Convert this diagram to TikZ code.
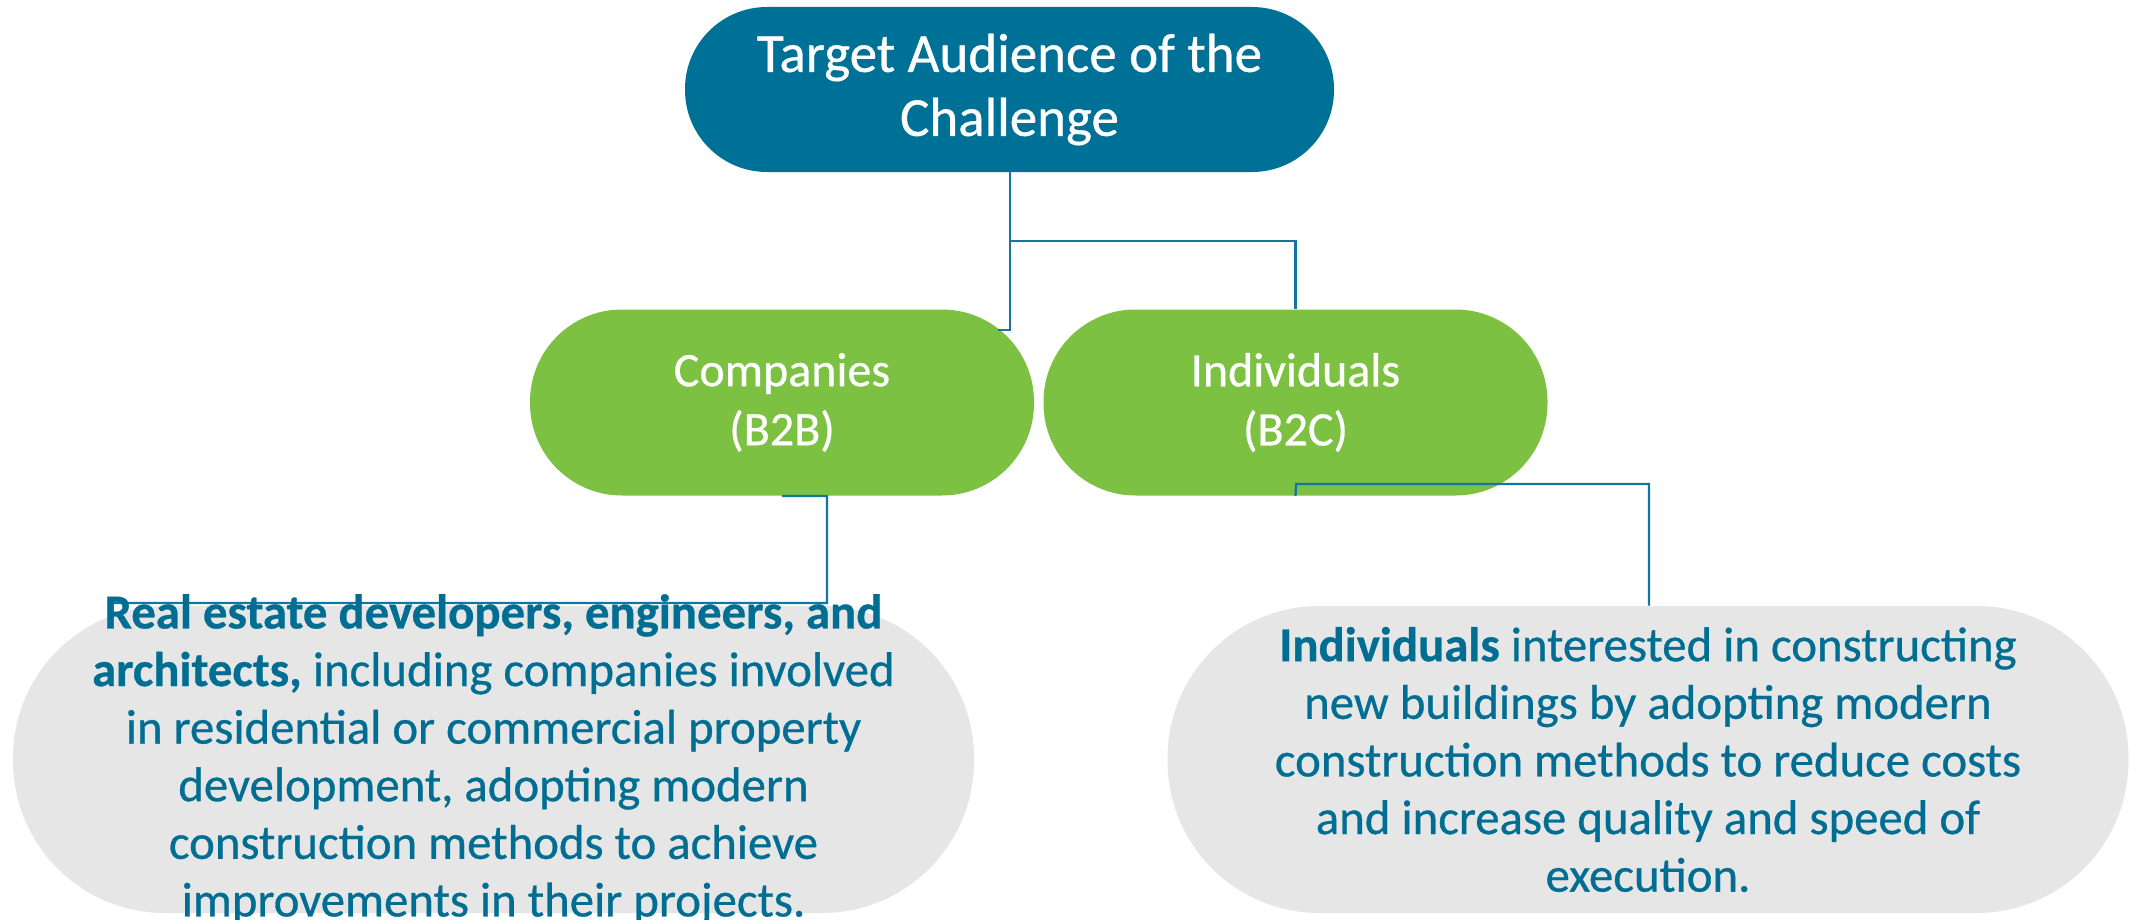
\documentclass[tikz,border=0pt]{standalone}
\usepackage{fontspec}
\setmainfont{Carlito}
\newfontfamily\sturdy{Carlito}[FakeBold=0.6]
\definecolor{headblue}{RGB}{0,113,150}
\definecolor{leafgreen}{RGB}{125,193,67}
\definecolor{softgray}{RGB}{230,230,230}
\definecolor{inkblue}{RGB}{0,110,146}
\definecolor{wireblue}{RGB}{18,118,160}
\tikzset{
  pill/.style={rectangle, inner sep=0pt, draw=none},
  headbox/.style={pill, fill=headblue, minimum width=324.5pt, minimum height=82.5pt,
    rounded corners=41pt, text=white, align=center,
    font=\sturdy\fontsize{27.5}{32}\selectfont},
  groupbox/.style={pill, fill=leafgreen, minimum width=252pt, minimum height=93pt,
    rounded corners=46pt, text=white, align=center,
    font=\sturdy\fontsize{24}{29.5}\selectfont},
  detailbox/.style={pill, fill=softgray, minimum width=480.5pt, minimum height=153.5pt,
    rounded corners=76pt},
  detailtext/.style={inner sep=0pt, text=inkblue, align=center,
    font=\sturdy\fontsize{24.4}{28.8}\selectfont},
  wire/.style={draw=wireblue, line width=1.1pt}
}
\begin{document}
\begin{tikzpicture}[x=0.5pt, y=-0.5pt]
  \useasboundingbox (0,0) rectangle (2136,920);

  % boxes
  \node[headbox] (head) at (1009.5,89.5) {Target Audience of the\\Challenge};
  \node[groupbox] (b2b) at (782,402.5) {Companies\\(B2B)};
  \node[groupbox] (b2c) at (1295.5,402.5) {Individuals\\(B2C)};
  \node[detailbox] (leftd) at (493.5,759.5) {};
  \node[detailbox] (rightd) at (1648,759.5) {};

  % elbow connectors
  \coordinate (splitA) at (1010,241);
  \coordinate (b2bIn) at (998,330);
  \coordinate (b2bOut) at (827,496);
  \coordinate (leftIn) at (108,603);
  \coordinate (b2cKnee) at (1296,484);
  \coordinate (rightKnee) at (1649,484);

  \draw[wire] (head.south -| splitA) -- (splitA) -| (b2c.north);
  \draw[wire] (head.south -| splitA) -- (splitA |- b2bIn) -- (b2bIn);
  \draw[wire] (b2b.south) -- (b2bOut) -- (b2bOut |- leftIn) -- (leftIn);
  \draw[wire] (b2c.south) -- (b2cKnee) -- (rightKnee) -- (rightKnee |- rightd.north);

  % descriptions
  \node[detailtext] (lefttext) at (leftd.center) {%
    \textbf{Real estate developers, engineers, and}\\
    \textbf{architects,} including companies involved\\
    in residential or commercial property\\
    development, adopting modern\\
    construction methods to achieve\\
    improvements in their projects.};
  \node[detailtext] (righttext) at (rightd.center) {%
    \textbf{Individuals} interested in constructing\\
    new buildings by adopting modern\\
    construction methods to reduce costs\\
    and increase quality and speed of\\
    execution.};
\end{tikzpicture}
\end{document}
